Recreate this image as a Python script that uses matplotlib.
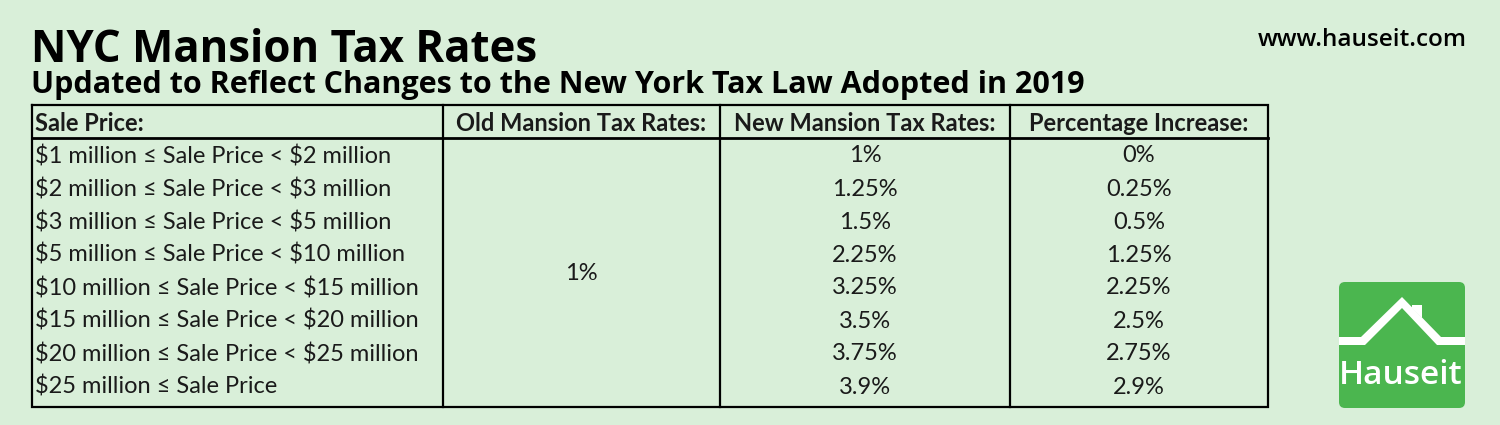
import matplotlib
matplotlib.use('Agg')
import matplotlib.pyplot as plt
from matplotlib.patches import FancyBboxPatch, Polygon

plt.rcParams['text.parse_math'] = False

# Table contents
headers = ['Sale Price:', 'Old Mansion Tax Rates:', 'New Mansion Tax Rates:', 'Percentage Increase:']
sale_prices = ['$1 million ≤ Sale Price < $2 million',
               '$2 million ≤ Sale Price < $3 million',
               '$3 million ≤ Sale Price < $5 million',
               '$5 million ≤ Sale Price < $10 million',
               '$10 million ≤ Sale Price < $15 million',
               '$15 million ≤ Sale Price < $20 million',
               '$20 million ≤ Sale Price < $25 million',
               '$25 million ≤ Sale Price']
old_rate = 1
new_rates = [1, 1.25, 1.5, 2.25, 3.25, 3.5, 3.75, 3.9]
pct_increase = [0, 0.25, 0.5, 1.25, 2.25, 2.5, 2.75, 2.9]

title = 'NYC Mansion Tax Rates'
subtitle = 'Updated to Reflect Changes to the New York Tax Law Adopted in 2019'
site = 'www.hauseit.com'

bg = '#d9efd9'
green = '#4bb64f'
txt = '#1a1a1a'
tfont = ['Lato', 'DejaVu Sans']

fig = plt.figure(figsize=(15, 4.25), dpi=100, facecolor=bg)
ax = fig.add_axes([0, 0, 1, 1])
ax.set_xlim(0, 1500)
ax.set_ylim(425, 0)
ax.axis('off')

# titles
ax.text(31, 62, title, fontsize=31.5, fontweight='bold', family='Open Sans',
        color='black', va='baseline', ha='left')
ax.text(31, 93, subtitle, fontsize=22, fontweight='bold', family='Open Sans',
        color='black', va='baseline', ha='left')
ax.text(1467, 40, site, fontsize=17.5, fontweight='semibold', family='Open Sans',
        color='black', va='center', ha='right')

# table geometry
col_x = [32, 443, 720, 1010, 1268]
top, head_bot, bottom = 105, 138, 407
row_h = 33.0
lw = 1.6

ax.plot([col_x[0], col_x[-1], col_x[-1], col_x[0], col_x[0]],
        [top, top, bottom, bottom, top], color='black', lw=lw, solid_joinstyle='miter')
ax.plot([col_x[0], col_x[-1]], [head_bot, head_bot], color='black', lw=2.0)
for x in col_x[1:-1]:
    ax.plot([x, x], [top, bottom], color='black', lw=lw)

# header
hy = (top + head_bot) / 2 + 1.5
hfs = 17
ax.text(col_x[0] + 3, hy, headers[0], fontsize=hfs, fontweight='bold', family=tfont,
        color=txt, va='center', ha='left')
for i in range(1, 4):
    ax.text((col_x[i] + col_x[i + 1]) / 2, hy, headers[i], fontsize=hfs, fontweight='bold',
            family=tfont, color=txt, va='center', ha='center')

# body rows
fs = 17
for r, label in enumerate(sale_prices):
    y = head_bot + row_h * (r + 0.5) + 1.5
    ax.text(col_x[0] + 3, y, label, fontsize=fs, family=tfont, color=txt,
            va='center', ha='left')
    ax.text((col_x[2] + col_x[3]) / 2, y, f'{new_rates[r]:g}%', fontsize=fs,
            family=tfont, color=txt, va='center', ha='center')
    ax.text((col_x[3] + col_x[4]) / 2, y, f'{pct_increase[r]:g}%', fontsize=fs,
            family=tfont, color=txt, va='center', ha='center')

ax.text((col_x[1] + col_x[2]) / 2, (head_bot + bottom) / 2 + 1, f'{old_rate:g}%',
        fontsize=fs, family=tfont, color=txt, va='center', ha='center')

# logo
ax.add_patch(FancyBboxPatch((1345, 288), 114, 114, boxstyle='round,pad=6,rounding_size=6',
                            facecolor=green, edgecolor='none'))
roof = [(1339, 337), (1361, 337), (1402, 297), (1441, 337), (1465, 337),
        (1465, 345), (1437, 345), (1402, 308), (1365, 345), (1339, 345)]
ax.add_patch(Polygon(roof, closed=True, facecolor='white', edgecolor='none'))
ax.add_patch(Polygon([(1412, 308), (1412, 305), (1422, 305), (1422, 318)], closed=True,
                     facecolor='white', edgecolor='none'))
ax.text(1401, 376, 'Hauseit', fontsize=24, fontweight='semibold', family='Open Sans',
        color='white', va='center', ha='center')

fig.savefig('out.png', dpi=100, facecolor=bg)
